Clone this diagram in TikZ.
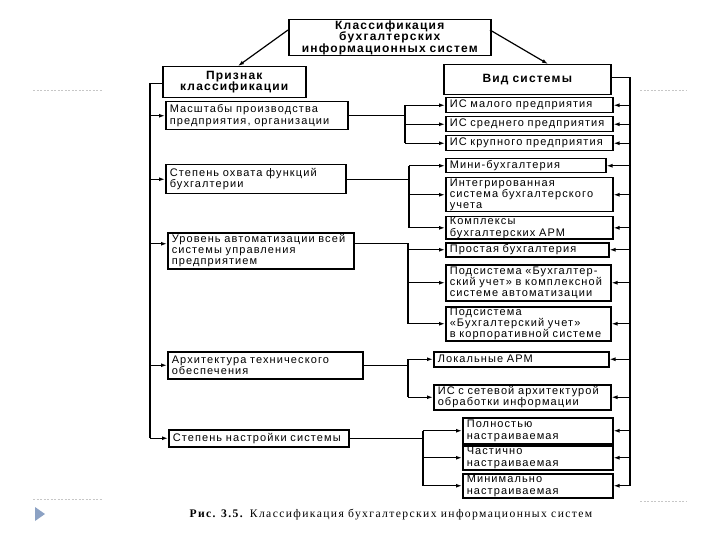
\documentclass[tikz,border=0pt]{standalone}
\usepackage{fontspec}
\setmainfont{Liberation Sans}[LetterSpace=10]
\newfontfamily\capfont{Liberation Serif}[LetterSpace=12]
\usetikzlibrary{arrows.meta,calc}
\newcommand\bx[7]{\pgfmathsetmacro\tw{#4-8}\node[#1,minimum width=#4pt,minimum height=#5pt,text width=\tw pt] (#2) at (#3) {#7};}
\begin{document}
\begin{tikzpicture}[x=1pt,y=-1pt,
  box/.style={draw,line width=1.5pt,inner xsep=4pt,inner ysep=0.5pt,align=left,
     font=\fontsize{11}{11.3}\selectfont,anchor=north west},
  hbox/.style={box,align=center,font=\fontsize{12}{11.3}\selectfont\bfseries},
  ln/.style={line width=1.2pt},
  arr/.style={ln,-{Latex[length=6pt,width=4pt]}},
  deco/.style={draw=black!22,dash pattern=on 2pt off 1.5pt,line width=0.8pt}]
\useasboundingbox (0,0) rectangle (720,540);
% slide decorations
\draw[deco] (33,90) -- (102,90);
\draw[deco] (640,90) -- (687,90);
\draw[deco] (33,499) -- (102,499);
\draw[deco] (640,501) -- (687,501);
\fill[fill={rgb,255:red,140;green,162;blue,196}] (35,507) -- (45,514) -- (35,521) -- cycle;
% boxes
\bx{hbox}{top}{288,19}{202}{36}{}{Классификация\\бухгалтерских\\информационных систем}
\bx{hbox}{pz}{162,66}{143}{31}{}{Признак\\классификации}
\bx{hbox}{vid}{443,64}{167}{30}{}{Вид системы}
\bx{box}{L1}{165,101}{182}{28}{}{Масштабы производства\\предприятия, организации}
\bx{box}{L2}{165,164}{180}{29}{}{Степень охвата функций\\бухгалтерии}
\bx{box}{L3}{167,232}{186}{36}{}{Уровень автоматизации всей\\системы управления\\предприятием}
\bx{box}{L4}{167,351}{195}{27}{}{Архитектура технического\\обеспечения}
\bx{box}{L5}{168,429}{180}{17}{}{Степень настройки системы}
\bx{box}{R1}{445,97}{167}{15}{}{ИС малого предприятия}
\bx{box}{R2}{445,116}{167}{15}{}{ИС среднего предприятия}
\bx{box}{R3}{445,135}{167}{15}{}{ИС крупного предприятия}
\bx{box}{R4}{445,158}{160}{14}{}{Мини-бухгалтерия}
\bx{box}{R5}{445,177}{167}{34}{}{Интегрированная\\система бухгалтерского\\учета}
\bx{box}{R6}{445,216}{167}{22}{}{Комплексы\\бухгалтерских АРМ}
\bx{box}{R7}{445,242}{163}{14}{}{Простая бухгалтерия}
\bx{box}{R8}{445,264}{165}{36}{}{Подсистема «Бухгалтер-\\ский учет» в комплексной\\системе автоматизации}
\bx{box}{R9}{445,306}{165}{34}{}{Подсистема\\«Бухгалтерский учет»\\в корпоративной системе}
\bx{box}{R10}{433,351}{175}{15}{}{Локальные АРМ}
\bx{box}{R11}{433,384}{177}{25}{}{ИС с сетевой архитектурой\\обработки информации}
\bx{box}{R12}{462,417}{150}{26}{}{Полностью\\настраиваемая}
\bx{box}{R13}{462,445}{150}{24}{}{Частично\\настраиваемая}
\bx{box}{R14}{462,473}{150}{24}{}{Минимально\\настраиваемая}
% caption
\node[font=\capfont\fontsize{11.6}{13}\selectfont,anchor=west] (cap) at (186,515)
  {\textbf{Рис. 3.5.} Классификация бухгалтерских информационных систем};
% top arrows
\coordinate (tl) at (288,30);
\coordinate (tr) at (490,30);
\coordinate (pzt) at (238,66);
\coordinate (vidt) at (548,64);
\draw[arr] (tl) -- (pzt);
\draw[arr] (tr) -- (vidt);
% left bus
\coordinate (lb) at (150,0);
\coordinate (pzw) at ([yshift=-1pt]pz.west);
\coordinate (L3w) at ([yshift=7pt]L3.west);
\coordinate (L3e) at ([yshift=7pt]L3.east);
\draw[ln] (pzw) -- (pzw -| lb) -- (lb |- L5.west);
\foreach \n in {L1,L2,L3w,L4,L5} \draw[arr] (lb |- \n) -- (\n);
% right bus
\coordinate (rb) at (630,0);
\coordinate (vide) at ([yshift=2pt]vid.east);
\draw[ln] (vide) -- (vide -| rb) -- (rb |- R14.east);
\foreach \n in {R1,R2,R3,R4,R5,R6,R7,R8,R9,R10,R11,R12,R13,R14}
  \draw[arr] (rb |- \n.east) -- (\n.east);
% group 1
\coordinate (s1) at (405,0);
\draw[ln] (L1.east) -- (L1.east -| s1);
\draw[ln] (s1 |- R1.west) -- (s1 |- R3.west);
\foreach \n in {R1,R2,R3} \draw[arr] (s1 |- \n.west) -- (\n.west);
% group 2
\coordinate (s2) at (409,0);
\draw[ln] (L2.east) -- (L2.east -| s2);
\draw[ln] (s2 |- R4.west) -- (s2 |- R6.west);
\foreach \n in {R4,R5,R6} \draw[arr] (s2 |- \n.west) -- (\n.west);
% group 3
\coordinate (s3) at (408,0);
\draw[ln] (L3e) -- (L3e -| s3) -- (s3 |- R9.west);
\foreach \n in {R7,R8,R9} \draw[arr] (s3 |- \n.west) -- (\n.west);
% group 4
\coordinate (s4) at (408,0);
\draw[ln] (L4.east) -- (L4.east -| s4);
\draw[ln] (s4 |- R10.west) -- (s4 |- R11.west);
\foreach \n in {R10,R11} \draw[arr] (s4 |- \n.west) -- (\n.west);
% group 5
\coordinate (s5) at (423,0);
\draw[ln] (L5.east) -- (L5.east -| s5);
\draw[ln] (s5 |- R12.west) -- (s5 |- R14.west);
\foreach \n in {R12,R13,R14} \draw[arr] (s5 |- \n.west) -- (\n.west);
\end{tikzpicture}
\end{document}
